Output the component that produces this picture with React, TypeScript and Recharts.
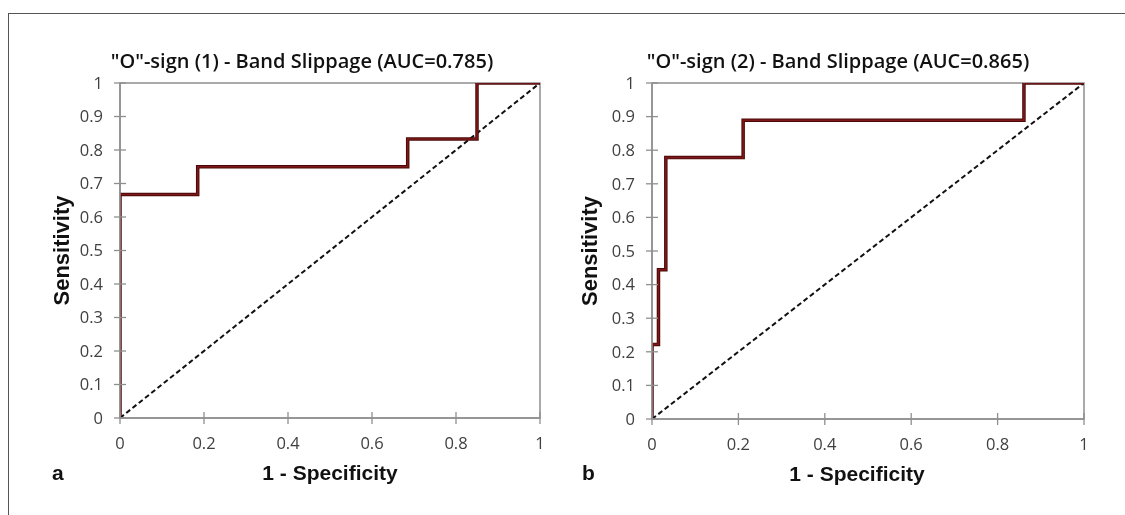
import React from "react";
import {
  LineChart,
  Line,
  XAxis,
  YAxis,
  ReferenceArea,
  Label
} from "recharts";

// ROC curve a: "O"-sign (1)
const rocAx = [0, 0, 0.185, 0.185, 0.685, 0.685, 0.85, 0.85, 1];
const rocAy = [0, 0.667, 0.667, 0.75, 0.75, 0.833, 0.833, 1, 1];

// ROC curve b: "O"-sign (2)
const rocBx = [0, 0, 0.015, 0.015, 0.032, 0.032, 0.211, 0.211, 0.861, 0.861, 1];
const rocBy = [0, 0.222, 0.222, 0.444, 0.444, 0.778, 0.778, 0.889, 0.889, 1, 1];

// reference diagonal
const diagX = [0, 1];
const diagY = [0, 1];

const xTicks = [0, 0.2, 0.4, 0.6, 0.8, 1];
const yTicks = [0, 0.1, 0.2, 0.3, 0.4, 0.5, 0.6, 0.7, 0.8, 0.9, 1];

const titles = [
  '"O"-sign (1) - Band Slippage (AUC=0.785)',
  '"O"-sign (2) - Band Slippage (AUC=0.865)'
];
const panelLetters = ["a", "b"];

const AXIS = "#8f8f8f";
const TICK_TEXT = "#404040";
const LINE_DARK = "#4a0808";
const LINE_RED = "#7e1818";
const BOLD_FONT = "'Liberation Sans', Arial, sans-serif";
const TICK_FONT = "'Open Sans', sans-serif";

const toPoints = (xs: number[], ys: number[]) => xs.map((x, i) => ({ x, y: ys[i] }));
const fmt = (v: number) => String(Number(v.toFixed(1)));

const YTick = (props: any) => {
  const { x, y, payload } = props;
  const ax = x + 17;
  return (
    <g>
      <line x1={ax - 6} x2={ax + 6} y1={y} y2={y} stroke={AXIS} strokeWidth={1.3} />
      <text x={x} y={y} dy="0.35em" textAnchor="end" fill={TICK_TEXT} fontSize={16.5} fontFamily={TICK_FONT}>
        {fmt(payload.value)}
      </text>
    </g>
  );
};

const XTick = (props: any) => {
  const { x, y, payload } = props;
  const ay = y - 18;
  return (
    <g>
      <line x1={x} x2={x} y1={ay - 6} y2={ay + 6} stroke={AXIS} strokeWidth={1.3} />
      <text x={x} y={y + 7} dy="0.35em" textAnchor="middle" fill={TICK_TEXT} fontSize={16.5} fontFamily={TICK_FONT}>
        {fmt(payload.value)}
      </text>
    </g>
  );
};

type PanelProps = {
  roc: { x: number; y: number }[];
  left: number;
  width: number;
  margin: { top: number; right: number; bottom: number; left: number };
  yLabelOffset: number;
  xLabelDx: number;
};

const Panel = ({ roc, left, width, margin, yLabelOffset, xLabelDx }: PanelProps) => {
  const diag = toPoints(diagX, diagY);
  return (
    <div style={{ position: "absolute", left, top: 0 }}>
      <LineChart width={width} height={499} margin={margin}>
        <XAxis
          type="number"
          dataKey="x"
          domain={[0, 1]}
          ticks={xTicks}
          tickSize={6}
          tickMargin={12}
          tickLine={false}
          tick={<XTick />}
          axisLine={{ stroke: AXIS, strokeWidth: 1.5 }}
          height={30}
          allowDataOverflow
        >
          <Label
            content={({ viewBox }: any) => (
              <text
                x={viewBox.x + viewBox.width / 2 + xLabelDx}
                y={viewBox.y + 62}
                textAnchor="middle"
                fontFamily={BOLD_FONT}
                fontWeight="bold"
                fontSize={21}
                fill="#111"
              >
                1 - Specificity
              </text>
            )}
          />
        </XAxis>
        <YAxis
          type="number"
          dataKey="y"
          domain={[0, 1]}
          ticks={yTicks}
          tickSize={6}
          tickMargin={11}
          tickLine={false}
          tick={<YTick />}
          axisLine={{ stroke: AXIS, strokeWidth: 1.5 }}
          width={60}
          allowDataOverflow
        >
          <Label
            content={({ viewBox }: any) => {
              const cx = viewBox.x + viewBox.width - yLabelOffset;
              const cy = viewBox.y + viewBox.height / 2;
              return (
                <text
                  x={cx}
                  y={cy}
                  dy="0.35em"
                  textAnchor="middle"
                  transform={`rotate(-90 ${cx} ${cy})`}
                  fontFamily={BOLD_FONT}
                  fontWeight="bold"
                  fontSize={22}
                  fill="#111"
                >
                  Sensitivity
                </text>
              );
            }}
          />
        </YAxis>
        <ReferenceArea x1={0} x2={1} y1={0} y2={1} fill="none" stroke={AXIS} strokeWidth={1.5} />
        <Line
          data={diag}
          dataKey="y"
          type="linear"
          stroke="#111"
          strokeWidth={2}
          strokeDasharray="5 3"
          dot={false}
          isAnimationActive={false}
        />
        <Line
          data={roc}
          dataKey="y"
          type="linear"
          stroke={LINE_DARK}
          strokeWidth={3.5}
          dot={false}
          isAnimationActive={false}
        />
        <Line
          data={roc}
          dataKey="y"
          type="linear"
          stroke={LINE_RED}
          strokeWidth={1.6}
          dot={false}
          isAnimationActive={false}
        />
      </LineChart>
    </div>
  );
};

export default function App() {
  return (
    <div style={{ position: "relative", width: 1109, height: 499, background: "#fff" }}>
      <div
        style={{
          position: "fixed",
          left: 8,
          top: 13,
          width: 1300,
          height: 700,
          borderTop: "1.5px solid #555",
          borderLeft: "1.5px solid #555"
        }}
      />
      <Panel
        roc={toPoints(rocAx, rocAy)}
        left={0}
        width={560}
        margin={{ top: 75, right: 28, bottom: 59, left: 52 }}
        yLabelOffset={59}
        xLabelDx={0}
      />
      <Panel
        roc={toPoints(rocBx, rocBy)}
        left={560}
        width={549}
        margin={{ top: 75, right: 33, bottom: 58, left: 24 }}
        yLabelOffset={63}
        xLabelDx={-11}
      />
      <svg
        width={1109}
        height={499}
        style={{ position: "absolute", left: 0, top: 0, pointerEvents: "none" }}
      >
        <text x={294} y={60} textAnchor="middle" fontFamily={TICK_FONT} fontWeight={600} fontSize={20} fill="#111">
          {titles[0]}
        </text>
        <text x={830} y={60} textAnchor="middle" fontFamily={TICK_FONT} fontWeight={600} fontSize={20} fill="#111">
          {titles[1]}
        </text>
        <text x={44} y={472} fontFamily={BOLD_FONT} fontWeight="bold" fontSize={21} fill="#111">
          {panelLetters[0]}
        </text>
        <text x={574} y={472} fontFamily={BOLD_FONT} fontWeight="bold" fontSize={21} fill="#111">
          {panelLetters[1]}
        </text>
      </svg>
    </div>
  );
}
